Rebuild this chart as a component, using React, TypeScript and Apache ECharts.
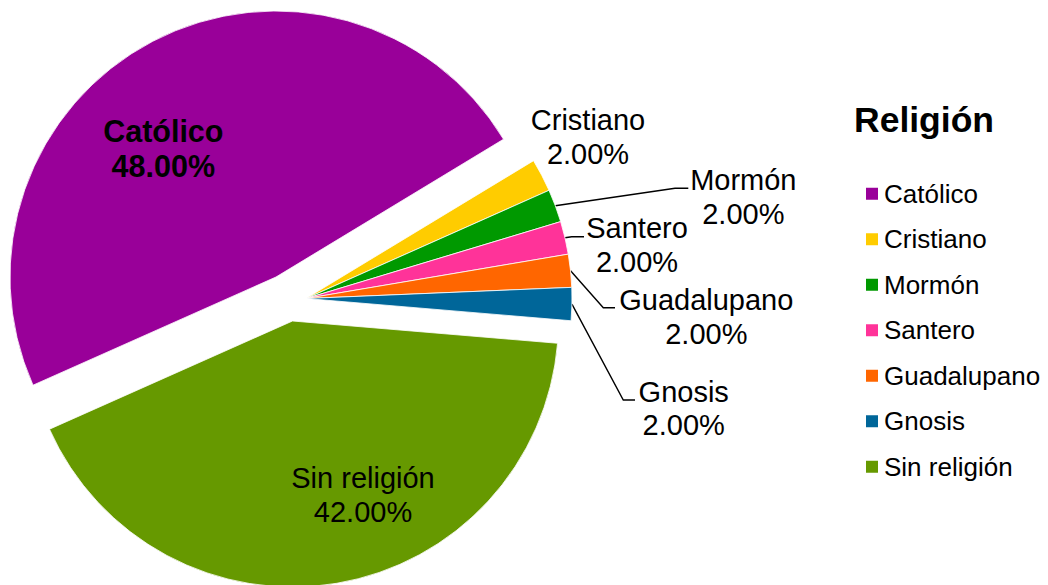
import React, { useEffect, useRef } from 'react';
import * as echarts from 'echarts';

const categories = ['Católico', 'Cristiano', 'Mormón', 'Santero', 'Guadalupano', 'Gnosis', 'Sin religión'];
const values = [48, 2, 2, 2, 2, 2, 42];
const colors = ['#990099', '#FFCC00', '#009900', '#FF3399', '#FF6600', '#006699', '#669900'];
const legendTitle = 'Religión';

// slices that are pulled out together
const groups = [[0], [1, 2, 3, 4, 5], [6]];
const groupCenters = [[276, 277], [306, 298.5], [292.5, 321]];

const labelCenters: Record<string, [number, number]> = {
  'Católico': [163.3, 148.3],
  'Cristiano': [588, 137],
  'Mormón': [743.3, 197],
  'Santero': [637, 245],
  'Guadalupano': [706.3, 317],
  'Gnosis': [683.7, 408.7],
  'Sin religión': [363, 495],
};
const leaderBends: Record<string, number[][]> = {
  'Mormón': [[675, 188.3], [688.3, 188.3]],
  'Santero': [[571.7, 236.7], [584, 236.7]],
  'Guadalupano': [[603.3, 307.7], [615, 307.7]],
  'Gnosis': [[623.3, 400], [635, 400]],
};

const FONT = '"Liberation Sans", Arial, sans-serif';
const total = values.reduce((a, b) => a + b, 0);

function buildSeries(gi: number) {
  const members = groups[gi];
  const data: any[] = [];
  let gap = 0;
  let k = 0;
  categories.forEach((name, i) => {
    if (members.includes(i)) {
      if (gap > 0) {
        data.push(placeholder(gi, k++, gap));
        gap = 0;
      }
      const inside = name === 'Católico' || name === 'Sin religión';
      const bold = name === 'Católico';
      data.push({
        name,
        value: values[i],
        itemStyle: { color: colors[i], borderColor: '#fff', borderWidth: 0.8 },
        label: {
          show: true,
          position: inside ? 'inside' : 'outside',
          fontWeight: bold ? 'bold' : 'normal',
          fontSize: bold ? 30.5 : 29,
          lineHeight: bold ? 35.5 : 33.4,
        },
        labelLine: { show: !!leaderBends[name] },
      });
    } else {
      gap += values[i];
    }
  });
  if (gap > 0) data.push(placeholder(gi, k++, gap));
  return {
    type: 'pie',
    center: groupCenters[gi],
    radius: 266,
    startAngle: 204,
    clockwise: true,
    avoidLabelOverlap: false,
    silent: true,
    emphasis: { disabled: true },
    label: {
      color: '#000',
      fontSize: 29,
      fontFamily: FONT,
      formatter: (p: any) => `${p.name}\n${((p.value / total) * 100).toFixed(2)}%`,
    },
    labelLine: {
      show: true,
      length: 10,
      length2: 10,
      smooth: false,
      lineStyle: { color: '#000', width: 1.4 },
    },
    labelLayout: (params: any) => {
      const item = data[params.dataIndex];
      if (!item || !labelCenters[item.name]) return {};
      const [x, y] = labelCenters[item.name];
      const res: any = { x, y, align: 'center', verticalAlign: 'middle' };
      const bends = leaderBends[item.name];
      if (bends && params.labelLinePoints) {
        res.labelLinePoints = [params.labelLinePoints[0], bends[0], bends[1]];
      }
      return res;
    },
    data,
  };
}

function placeholder(gi: number, k: number, v: number) {
  return {
    name: `__gap_${gi}_${k}`,
    value: v,
    itemStyle: { color: 'rgba(0,0,0,0)', borderWidth: 0 },
    label: { show: false },
    labelLine: { show: false },
  };
}

export default function App() {
  const ref = useRef<HTMLDivElement>(null);
  useEffect(() => {
    if (!ref.current) return;
    const chart = echarts.init(ref.current, undefined, { renderer: 'svg' });
    chart.setOption({
      animation: false,
      backgroundColor: '#fff',
      title: {
        text: legendTitle,
        left: 854,
        top: 102,
        padding: 0,
        textStyle: { fontSize: 35.5, lineHeight: 36, fontWeight: 'bold', color: '#000', fontFamily: FONT },
      },
      legend: {
        orient: 'vertical',
        left: 864,
        top: 180.7,
        padding: 0,
        itemWidth: 14,
        itemHeight: 14,
        itemGap: 19.5,
        icon: 'rect',
        selectedMode: false,
        data: categories,
        textStyle: { fontSize: 26, lineHeight: 26, color: '#000', fontFamily: FONT },
      },
      series: groups.map((_, gi) => buildSeries(gi)),
    });
    return () => chart.dispose();
  }, []);
  return <div ref={ref} style={{ position: 'absolute', left: 0, top: 0, width: 1048, height: 585 }} />;
}
